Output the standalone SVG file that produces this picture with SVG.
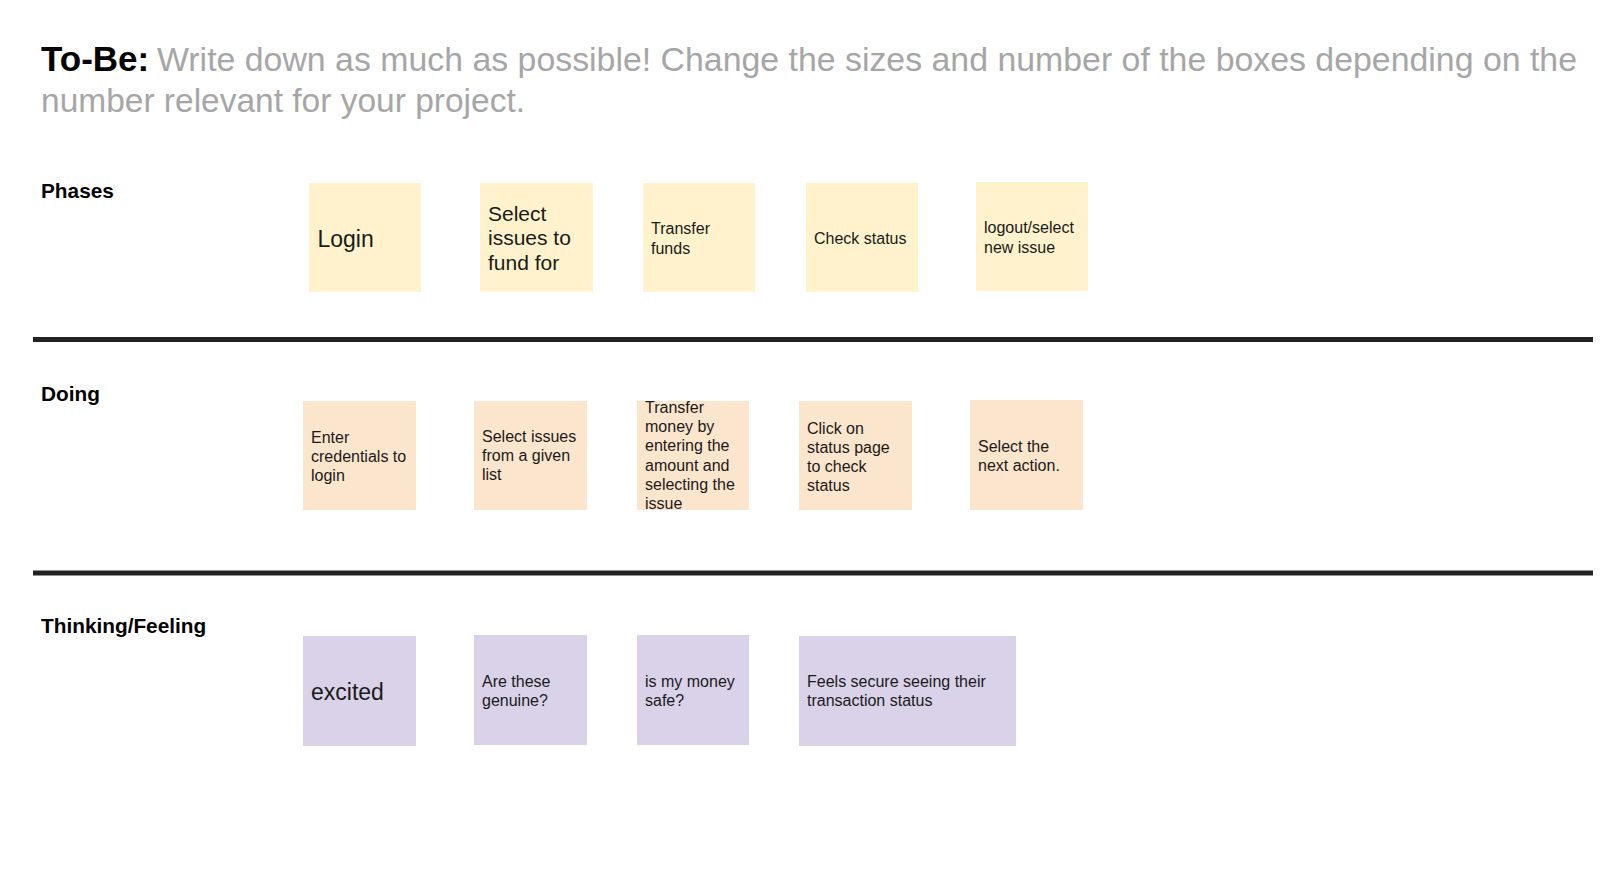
<svg xmlns="http://www.w3.org/2000/svg" width="1600" height="892" viewBox="0 0 1600 892">
<style>
text{font-family:"Liberation Sans",Arial,Helvetica,sans-serif;fill:#1a1a1a}
.title{font-size:34px;fill:#a6a6a6}
.tb{font-size:35px;font-weight:bold;fill:#000}
.hdr{font-size:20.8px;font-weight:bold;fill:#000}
.big{font-size:23px}
.mid{font-size:21px}
.sm{font-size:16px}
.ph{fill:#fff2cc}
.do{fill:#fce5cd}
.th{fill:#d9d2e9}
.sep{stroke:#222;stroke-width:5}
</style>
<rect width="1600" height="892" fill="#fff"/>
<g id="title">
<text class="tb" x="41" y="71">To-Be:</text>
<text class="title" x="157" y="71" textLength="1420" lengthAdjust="spacingAndGlyphs">Write down as much as possible! Change the sizes and number of the boxes depending on the</text>
<text class="title" x="41" y="112" textLength="484" lengthAdjust="spacingAndGlyphs">number relevant for your project.</text>
</g>
<g id="separators">
<line class="sep" x1="33" y1="339.5" x2="1593" y2="339.5"/>
<line class="sep" x1="33" y1="573" x2="1593" y2="573"/>
</g>
<g id="headers">
<text class="hdr" x="41" y="198">Phases</text>
<text class="hdr" x="41" y="401">Doing</text>
<text class="hdr" x="41" y="633">Thinking/Feeling</text>
</g>
<g id="phase-login"><rect class="ph" x="309" y="183" width="112" height="109"/><text class="big" x="317.5" y="247">Login</text></g>
<g id="phase-select"><rect class="ph" x="480" y="183" width="113" height="109"/><text class="mid"><tspan x="488" y="220.5">Select</tspan><tspan x="488" y="245">issues to</tspan><tspan x="488" y="269.5">fund for</tspan></text></g>
<g id="phase-transfer"><rect class="ph" x="643" y="183" width="112" height="109"/><text class="sm"><tspan x="651" y="234">Transfer</tspan><tspan x="651" y="253.5">funds</tspan></text></g>
<g id="phase-check"><rect class="ph" x="806" y="183" width="112" height="109"/><text class="sm" x="814" y="244">Check status</text></g>
<g id="phase-logout"><rect class="ph" x="976" y="182" width="112" height="109"/><text class="sm"><tspan x="984" y="233">logout/select</tspan><tspan x="984" y="252.5">new issue</tspan></text></g>
<g id="doing-enter"><rect class="do" x="303" y="401" width="113" height="109"/><text class="sm"><tspan x="311" y="442.5">Enter</tspan><tspan x="311" y="461.5">credentials to</tspan><tspan x="311" y="480.5">login</tspan></text></g>
<g id="doing-select"><rect class="do" x="474" y="401" width="113" height="109"/><text class="sm"><tspan x="482" y="441.5">Select issues</tspan><tspan x="482" y="460.5">from a given</tspan><tspan x="482" y="479.5">list</tspan></text></g>
<g id="doing-transfer"><rect class="do" x="637" y="401" width="112" height="109"/><text class="sm"><tspan x="645" y="413">Transfer</tspan><tspan x="645" y="432">money by</tspan><tspan x="645" y="451">entering the</tspan><tspan x="645" y="470.5">amount and</tspan><tspan x="645" y="490">selecting the</tspan><tspan x="645" y="509">issue</tspan></text></g>
<g id="doing-click"><rect class="do" x="799" y="401" width="113" height="109"/><text class="sm"><tspan x="807" y="433.5">Click on</tspan><tspan x="807" y="453">status page</tspan><tspan x="807" y="472">to check</tspan><tspan x="807" y="491">status</tspan></text></g>
<g id="doing-next"><rect class="do" x="970" y="400" width="113" height="110"/><text class="sm"><tspan x="978" y="451.5">Select the</tspan><tspan x="978" y="470.5">next action.</tspan></text></g>
<g id="feel-excited"><rect class="th" x="303" y="636" width="113" height="110"/><text class="big" x="311" y="700">excited</text></g>
<g id="feel-genuine"><rect class="th" x="474" y="635" width="113" height="110"/><text class="sm"><tspan x="482" y="686.5">Are these</tspan><tspan x="482" y="706">genuine?</tspan></text></g>
<g id="feel-safe"><rect class="th" x="637" y="635" width="112" height="110"/><text class="sm"><tspan x="645" y="686.5">is my money</tspan><tspan x="645" y="706">safe?</tspan></text></g>
<g id="feel-secure"><rect class="th" x="799" y="636" width="217" height="110"/><text class="sm"><tspan x="807" y="686.5">Feels secure seeing their</tspan><tspan x="807" y="706">transaction status</tspan></text></g>
<g id="connectors"></g>
</svg>
